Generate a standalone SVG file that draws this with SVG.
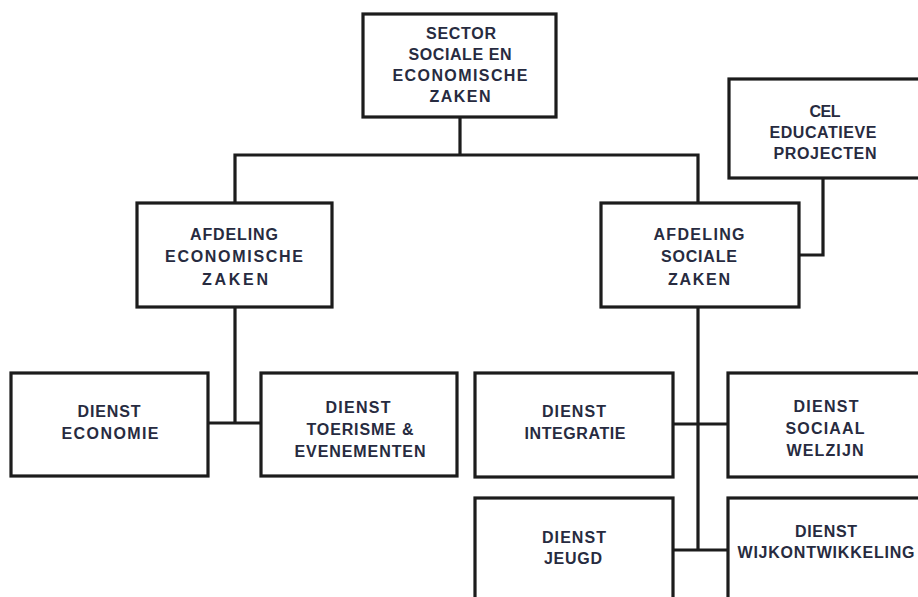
<svg xmlns="http://www.w3.org/2000/svg" width="918" height="597" viewBox="0 0 918 597">
  <style>
    .box { fill: #ffffff; stroke: #1c1c1c; stroke-width: 3.2; }
    .link { fill: none; stroke: #1c1c1c; stroke-width: 3.2; stroke-linecap: square; }
    text { font-family: "Liberation Sans", Arial, sans-serif; font-weight: bold; font-size: 16px; fill: #272b40; text-anchor: middle; }
  </style>
  <rect width="918" height="597" fill="#ffffff"/>

  <!-- connectors -->
  <g id="connectors">
    <path class="link" d="M460,117 V155 M235,155 H698 M235,155 V203 M698,155 V203"/>
    <path class="link" d="M235,307 V423 M208,423 H261"/>
    <path class="link" d="M799,255 H823 V178"/>
    <path class="link" d="M698,307 V550 M673,424 H728 M673,550 H728"/>
  </g>

  <!-- top level -->
  <g id="sector">
    <rect class="box" x="363" y="14" width="193" height="103"/>
    <text x="461" y="39" textLength="70" lengthAdjust="spacing">SECTOR</text>
    <text x="460" y="60" textLength="103" lengthAdjust="spacing">SOCIALE EN</text>
    <text x="460" y="81" textLength="135" lengthAdjust="spacing">ECONOMISCHE</text>
    <text x="460" y="102" textLength="61" lengthAdjust="spacing">ZAKEN</text>
  </g>

  <g id="cel">
    <rect class="box" x="729" y="79" width="200" height="99"/>
    <text x="825" y="117" textLength="31" lengthAdjust="spacing">CEL</text>
    <text x="823" y="138" textLength="107" lengthAdjust="spacing">EDUCATIEVE</text>
    <text x="825" y="159" textLength="103" lengthAdjust="spacing">PROJECTEN</text>
  </g>

  <!-- departments -->
  <g id="afdeling-economische-zaken">
    <rect class="box" x="137" y="203" width="195" height="104"/>
    <text x="234" y="240" textLength="88" lengthAdjust="spacing">AFDELING</text>
    <text x="234" y="262" textLength="138" lengthAdjust="spacing">ECONOMISCHE</text>
    <text x="235" y="285" textLength="66" lengthAdjust="spacing">ZAKEN</text>
  </g>

  <g id="afdeling-sociale-zaken">
    <rect class="box" x="601" y="203" width="198" height="104"/>
    <text x="699" y="240" textLength="91" lengthAdjust="spacing">AFDELING</text>
    <text x="699" y="262" textLength="76" lengthAdjust="spacing">SOCIALE</text>
    <text x="699" y="285" textLength="62" lengthAdjust="spacing">ZAKEN</text>
  </g>

  <!-- services -->
  <g id="dienst-economie">
    <rect class="box" x="11" y="373" width="197" height="103"/>
    <text x="109" y="417" textLength="63" lengthAdjust="spacing">DIENST</text>
    <text x="110" y="439" textLength="97" lengthAdjust="spacing">ECONOMIE</text>
  </g>

  <g id="dienst-toerisme">
    <rect class="box" x="261" y="373" width="196" height="103"/>
    <text x="358" y="413" textLength="65" lengthAdjust="spacing">DIENST</text>
    <text x="360" y="435" textLength="107" lengthAdjust="spacing">TOERISME &amp;</text>
    <text x="360" y="457" textLength="131" lengthAdjust="spacing">EVENEMENTEN</text>
  </g>

  <g id="dienst-integratie">
    <rect class="box" x="475" y="373" width="198" height="104"/>
    <text x="574" y="417" textLength="64" lengthAdjust="spacing">DIENST</text>
    <text x="575" y="439" textLength="101" lengthAdjust="spacing">INTEGRATIE</text>
  </g>

  <g id="dienst-sociaal-welzijn">
    <rect class="box" x="728" y="373" width="202" height="104"/>
    <text x="826" y="412" textLength="65" lengthAdjust="spacing">DIENST</text>
    <text x="825" y="434" textLength="79" lengthAdjust="spacing">SOCIAAL</text>
    <text x="825" y="456" textLength="77" lengthAdjust="spacing">WELZIJN</text>
  </g>

  <g id="dienst-jeugd">
    <rect class="box" x="475" y="498" width="198" height="110"/>
    <text x="574" y="543" textLength="64" lengthAdjust="spacing">DIENST</text>
    <text x="573" y="564" textLength="58" lengthAdjust="spacing">JEUGD</text>
  </g>

  <g id="dienst-wijkontwikkeling">
    <rect class="box" x="728" y="498" width="202" height="110"/>
    <text x="826" y="537" textLength="62" lengthAdjust="spacing">DIENST</text>
    <text x="826" y="558" textLength="177" lengthAdjust="spacing">WIJKONTWIKKELING</text>
  </g>
</svg>
